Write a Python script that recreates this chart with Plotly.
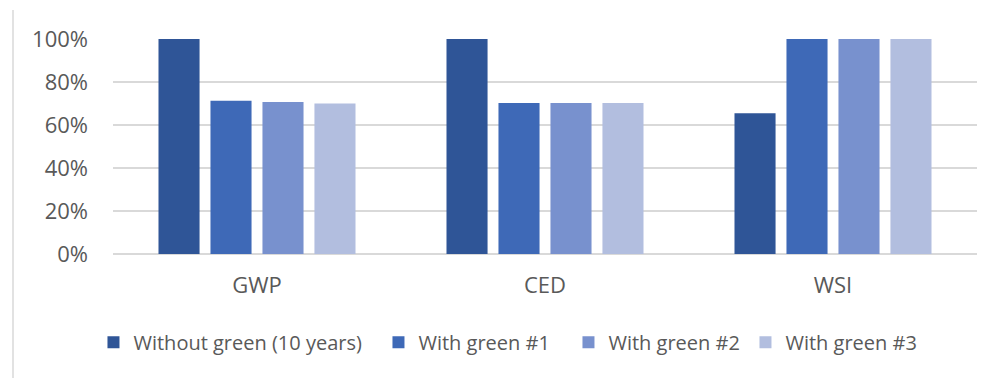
import plotly.graph_objects as go

categories = ["GWP", "CED", "WSI"]
series_names = ["Without green (10 years)", "With green #1", "With green #2", "With green #3"]
without_green = [1.00, 1.00, 0.655]
green_1 = [0.713, 0.702, 1.00]
green_2 = [0.707, 0.702, 1.00]
green_3 = [0.700, 0.702, 1.00]
colors = ["#2F5597", "#3E69B7", "#7891CE", "#B2BEDF"]
legend_widths = [240, 145, 132, 130]
y_ticks = [0, 0.2, 0.4, 0.6, 0.8, 1.0]
y_tick_labels = ["0%", "20%", "40%", "60%", "80%", "100%"]

font_family = "Open Sans, Noto Sans, sans-serif"
text_color = "#595959"
grid_color = "#D9D9D9"

fig = go.Figure()
for name, vals, col, lw in zip(series_names, [without_green, green_1, green_2, green_3],
                               colors, legend_widths):
    fig.add_trace(go.Bar(
        x=categories, y=vals, name=name,
        marker=dict(color=col, line=dict(width=0)),
        legendwidth=lw,
        hoverinfo="skip",
    ))

fig.update_layout(
    width=1007, height=378,
    margin=dict(l=113, r=30, t=39, b=124),
    paper_bgcolor="white", plot_bgcolor="white",
    barmode="group", bargap=0.278, bargroupgap=0.21,
    font=dict(family=font_family, color=text_color, size=19),
    showlegend=True,
    legend=dict(
        orientation="h", x=-0.0226, xanchor="left", y=-0.41, yanchor="middle",
        font=dict(size=20, color=text_color), traceorder="normal",
        itemwidth=30,
    ),
    shapes=[dict(type="line", xref="paper", yref="paper",
                 x0=-100 / 864, x1=-100 / 864, y0=-124 / 215, y1=1 + 29 / 215,
                 line=dict(color="#D9D9D9", width=1.5))],
)
fig.update_xaxes(
    showgrid=False, showline=False, zeroline=False,
    ticks="", ticklabelstandoff=16,
    tickfont=dict(size=22, color=text_color),
)
fig.update_yaxes(
    range=[0, 1.0], tickvals=y_ticks, ticktext=y_tick_labels,
    showgrid=True, gridcolor=grid_color, gridwidth=1.5,
    zeroline=True, zerolinecolor=grid_color, zerolinewidth=1.5,
    showline=False, ticks="", ticklabelstandoff=24,
    tickfont=dict(size=22, color=text_color),
)

fig.write_html("out.html")
